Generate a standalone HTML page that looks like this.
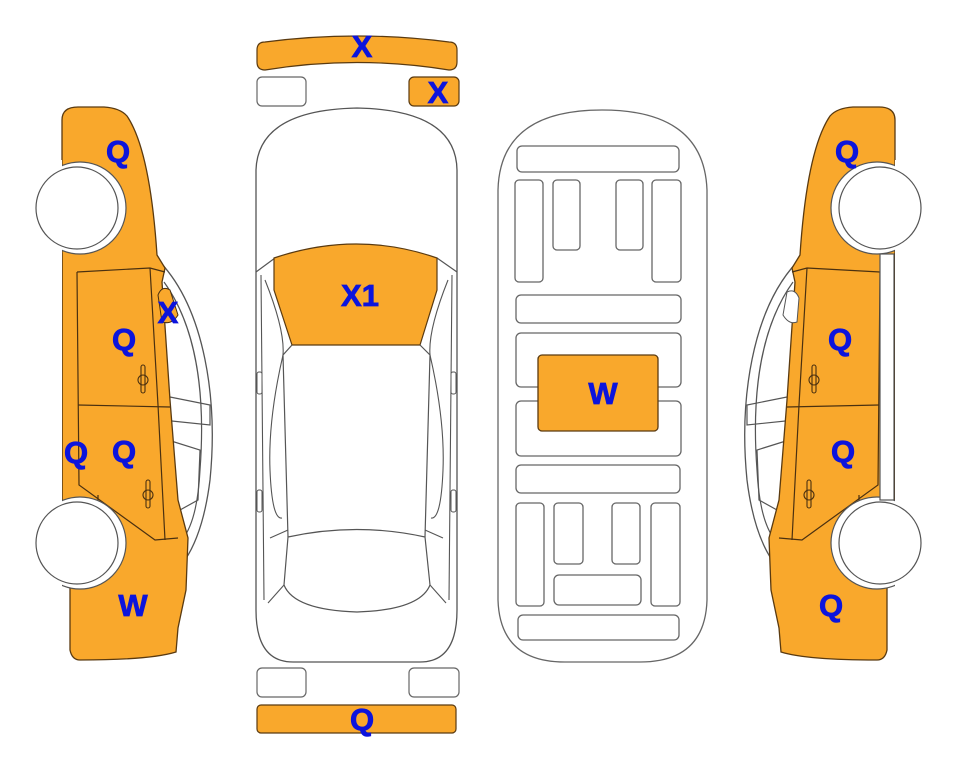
<!DOCTYPE html>
<html><head><meta charset="utf-8"><style>
html,body{margin:0;padding:0;background:#fff;}
svg{display:block;}
text{font-family:"Liberation Sans",Arial,sans-serif;font-weight:bold;font-size:31px;fill:#0c14dc;text-anchor:middle;stroke:#0c14dc;stroke-width:0.8;}
</style></head><body>
<svg width="963" height="768" viewBox="0 0 963 768" xmlns="http://www.w3.org/2000/svg">
<defs>
<g id="side">
  <path d="M160,262 C205,310 218,400 210,480 C205,520 195,545 185,560" fill="#fff" stroke="#555" stroke-width="1.3"/>
  <path d="M164,282 C195,325 206,390 200,470 C198,510 190,530 182,540" fill="none" stroke="#555" stroke-width="1.2"/>
  <path d="M160,395 L210,405 L210,425 L162,420" fill="none" stroke="#555" stroke-width="1.2"/>
  <path d="M168,440 L200,450 L198,500 L180,510" fill="none" stroke="#555" stroke-width="1.2"/>
  <path d="M62,120 Q62,107 78,107 L104,107 Q120,108 127,116 Q150,150 157,255 L165,268 L162,282 L170,400 L178,500 L188,538 L186,590 L178,628 L176,652 Q150,660 80,660 Q72,660 70,650 L70,588 L62,582 Z" fill="#f9a82c" stroke="#5a3a10" stroke-width="1.3"/>
  <path d="M77,272 L150,268 L165,272" fill="none" stroke="#4a3010" stroke-width="1.2"/>
  <path d="M77,272 L79,485 L155,540 L178,538" fill="none" stroke="#4a3010" stroke-width="1.2"/>
  <path d="M150,268 L158,405 L165,540" fill="none" stroke="#4a3010" stroke-width="1.2"/>
  <path d="M78,405 L170,407" fill="none" stroke="#4a3010" stroke-width="1.2"/>
  <path d="M62,253 L62,505 M98,505 L98,495" fill="none" stroke="#4a3010" stroke-width="1.2"/>
  <rect x="141" y="365" width="4" height="28" rx="2" fill="none" stroke="#4a3010" stroke-width="1.1"/>
  <circle cx="143" cy="380" r="5" fill="none" stroke="#4a3010" stroke-width="1.1"/>
  <rect x="146" y="480" width="4" height="28" rx="2" fill="none" stroke="#4a3010" stroke-width="1.1"/>
  <circle cx="148" cy="495" r="5" fill="none" stroke="#4a3010" stroke-width="1.1"/>
  <circle cx="80" cy="208" r="46" fill="#fff" stroke="#555" stroke-width="1.2"/>
  <circle cx="80" cy="543" r="46" fill="#fff" stroke="#555" stroke-width="1.2"/>
  <rect x="30" y="160" width="32" height="440" fill="#fff"/>
  <circle cx="77" cy="208" r="41" fill="#fff" stroke="#555" stroke-width="1.2"/>
  <circle cx="77" cy="543" r="41" fill="#fff" stroke="#555" stroke-width="1.2"/>
</g>
</defs>

<use href="#side"/>
<path d="M158,295 Q162,285 170,290 L178,315 Q172,325 162,322 Z" fill="#f9a82c" stroke="#4a3010" stroke-width="1"/>

<g transform="translate(957,0) scale(-1,1)">
  <use href="#side"/>
  <rect x="63" y="254" width="14" height="246" fill="#fff" stroke="#555" stroke-width="1.2"/>
  <path d="M158,298 Q162,288 170,292 L174,315 Q168,325 160,322 Z" fill="#fff" stroke="#555" stroke-width="1"/>
</g>

<path d="M257,50 Q257,42 265,42 Q357,30 449,42 Q457,42 457,50 L457,62 Q457,70 449,70 Q357,55 265,70 Q257,70 257,62 Z" fill="#f9a82c" stroke="#5a3a10" stroke-width="1.2"/>
<rect x="257" y="77" width="49" height="29" rx="5" fill="#fff" stroke="#666" stroke-width="1.2"/>
<rect x="409" y="77" width="50" height="29" rx="5" fill="#f9a82c" stroke="#5a3a10" stroke-width="1.2"/>
<path d="M256,170 Q258,110 357,108 Q456,110 457,170 L457,610 Q457,662 420,662 L293,662 Q256,662 256,610 Z" fill="#fff" stroke="#555" stroke-width="1.3"/>
<path d="M256,272 L275,258 M457,272 L437,258" fill="none" stroke="#555" stroke-width="1.2"/>
<path d="M261,275 L264,600 M452,275 L449,600" fill="none" stroke="#555" stroke-width="1.1"/>
<path d="M265,280 Q285,330 283,355 M448,280 Q428,330 430,355" fill="none" stroke="#555" stroke-width="1.1"/>
<path d="M274,258 Q357,230 437,258 L437,290 L420,345 L292,345 L274,290 Z" fill="#f9a82c" stroke="#5a3a10" stroke-width="1.2"/>
<path d="M292,345 L283,355 L288,537 M420,345 L430,355 L425,537" fill="none" stroke="#555" stroke-width="1.2"/>
<path d="M288,537 Q357,522 425,537 L430,585 Q420,610 357,612 Q294,610 284,585 Z" fill="none" stroke="#555" stroke-width="1.2"/>
<path d="M283,355 Q268,420 270,470 Q272,520 282,518 M430,355 Q445,420 443,470 Q441,520 431,518" fill="none" stroke="#555" stroke-width="1.1"/>
<path d="M284,585 L268,603 M430,585 L446,603 M288,530 L270,538 M425,530 L443,538" fill="none" stroke="#555" stroke-width="1.1"/>
<rect x="257" y="372" width="5" height="22" rx="2" fill="#fff" stroke="#555"/>
<rect x="257" y="490" width="5" height="22" rx="2" fill="#fff" stroke="#555"/>
<rect x="451" y="372" width="5" height="22" rx="2" fill="#fff" stroke="#555"/>
<rect x="451" y="490" width="5" height="22" rx="2" fill="#fff" stroke="#555"/>
<rect x="257" y="668" width="49" height="29" rx="5" fill="#fff" stroke="#666" stroke-width="1.2"/>
<rect x="409" y="668" width="50" height="29" rx="5" fill="#fff" stroke="#666" stroke-width="1.2"/>
<rect x="257" y="705" width="199" height="28" rx="4" fill="#f9a82c" stroke="#5a3a10" stroke-width="1.2"/>

<g fill="#fff" stroke="#666" stroke-width="1.3">
<path d="M498,190 Q500,110 602,110 Q704,110 707,190 L707,600 Q705,662 640,662 L565,662 Q500,662 498,600 Z"/>
<rect x="517" y="146" width="162" height="26" rx="5"/>
<rect x="515" y="180" width="28" height="102" rx="4"/>
<rect x="553" y="180" width="27" height="70" rx="4"/>
<rect x="616" y="180" width="27" height="70" rx="4"/>
<rect x="652" y="180" width="29" height="102" rx="4"/>
<rect x="516" y="295" width="165" height="28" rx="5"/>
<rect x="516" y="333" width="165" height="54" rx="5"/>
<rect x="516" y="401" width="165" height="55" rx="5"/>
<rect x="516" y="465" width="164" height="28" rx="5"/>
<rect x="516" y="503" width="28" height="103" rx="4"/>
<rect x="554" y="503" width="29" height="61" rx="4"/>
<rect x="612" y="503" width="28" height="61" rx="4"/>
<rect x="651" y="503" width="29" height="103" rx="4"/>
<rect x="554" y="575" width="87" height="30" rx="5"/>
<rect x="518" y="615" width="161" height="25" rx="5"/>
</g>
<rect x="538" y="355" width="120" height="76" rx="4" fill="#f9a82c" stroke="#5a3a10" stroke-width="1.3"/>

<text x="118" y="162">Q</text>
<text x="124" y="350">Q</text>
<text x="168" y="323">X</text>
<text x="76" y="463">Q</text>
<text x="124" y="462">Q</text>
<text x="133" y="616">W</text>
<text x="847" y="162">Q</text>
<text x="840" y="350">Q</text>
<text x="843" y="462">Q</text>
<text x="831" y="616">Q</text>
<text x="362" y="57">X</text>
<text x="438" y="103">X</text>
<text x="360" y="306">X1</text>
<text x="603" y="404">W</text>
<text x="362" y="730">Q</text>
</svg>
</body></html>
